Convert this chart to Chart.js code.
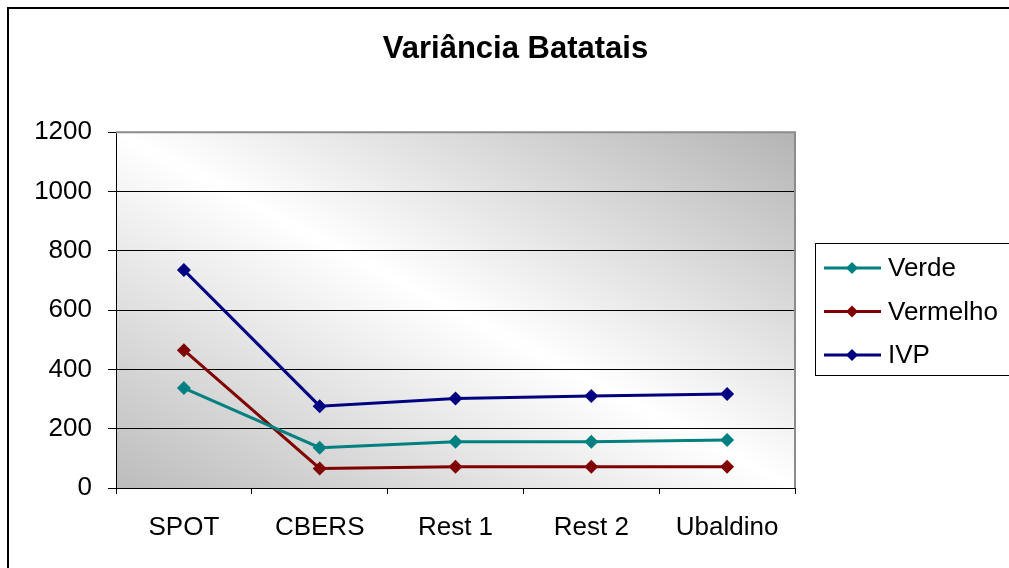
<!DOCTYPE html>
<html>
<head>
<meta charset="utf-8">
<title>Variância Batatais</title>
<script src="https://cdn.jsdelivr.net/npm/chart.js@4/dist/chart.umd.min.js"></script>
<style>
  html, body { margin: 0; padding: 0; background: #fff; }
  canvas { display: block; }
</style>
</head>
<body>
<canvas id="varChart" width="1009" height="568"></canvas>
<script>
const categories = ['SPOT', 'CBERS', 'Rest 1', 'Rest 2', 'Ubaldino'];
const verde = [337, 136, 156, 156, 162];
const vermelho = [465, 66, 72, 72, 72];
const ivp = [735, 276, 302, 310, 317];
const yTicks = [0, 200, 400, 600, 800, 1000, 1200];

const FONT = '"Liberation Sans", Arial, sans-serif';
Chart.defaults.font.family = FONT;
Chart.defaults.color = '#000';

// outer frame + plot area background/border
const frame = {
  id: 'frame',
  beforeDraw(chart) {
    const { ctx, chartArea: a } = chart;
    ctx.save();
    ctx.fillStyle = '#fff';
    ctx.fillRect(0, 0, chart.width, chart.height);
    ctx.strokeStyle = '#000';
    ctx.lineWidth = 2;
    ctx.beginPath();
    ctx.moveTo(8, chart.height + 2);
    ctx.lineTo(8, 8);
    ctx.lineTo(chart.width + 2, 8);
    ctx.stroke();

    // diagonal grey-white-grey fill
    const cx = (a.left + a.right) / 2, cy = (a.top + a.bottom) / 2;
    const w = a.right - a.left, h = a.bottom - a.top;
    const len = Math.hypot(w, h);
    const nx = h / len, ny = -w / len;
    const d = (w / 2) * nx - (h / 2) * ny;
    const g = ctx.createLinearGradient(cx + d * nx, cy + d * ny, cx - d * nx, cy - d * ny);
    g.addColorStop(0, '#b4b4b4');
    g.addColorStop(0.5, '#ffffff');
    g.addColorStop(1, '#bcbcbc');
    ctx.fillStyle = g;
    ctx.fillRect(a.left, a.top, w, h);
    ctx.restore();
  },
  beforeDatasetsDraw(chart) {
    const { ctx, chartArea: a } = chart;
    ctx.save();
    ctx.strokeStyle = '#8c8c8c';
    ctx.lineWidth = 2;
    ctx.beginPath();
    ctx.moveTo(a.left, a.top);
    ctx.lineTo(a.right, a.top);
    ctx.lineTo(a.right, a.bottom);
    ctx.stroke();
    ctx.restore();
  }
};

// boxed legend on the right: line sample with diamond marker
const boxLegend = {
  id: 'boxLegend',
  afterDraw(chart) {
    const ctx = chart.ctx;
    ctx.save();
    ctx.strokeStyle = '#000';
    ctx.lineWidth = 1;
    ctx.strokeRect(815.5, 243.5, 200, 132);
    chart.data.datasets.forEach((ds, i) => {
      const y = 268 + i * 43.5;
      ctx.strokeStyle = ds.borderColor;
      ctx.lineWidth = 3;
      ctx.beginPath();
      ctx.moveTo(824, y);
      ctx.lineTo(881, y);
      ctx.stroke();
      ctx.fillStyle = ds.borderColor;
      ctx.beginPath();
      ctx.moveTo(852, y - 6);
      ctx.lineTo(858, y);
      ctx.lineTo(852, y + 6);
      ctx.lineTo(846, y);
      ctx.closePath();
      ctx.fill();
      ctx.fillStyle = '#000';
      ctx.font = '26px ' + FONT;
      ctx.textBaseline = 'middle';
      ctx.textAlign = 'left';
      ctx.fillText(ds.label, 888, y + 1);
    });
    ctx.restore();
  }
};

function series(label, data, color) {
  return {
    label,
    data,
    borderColor: color,
    backgroundColor: color,
    borderWidth: 3,
    tension: 0,
    pointStyle: 'rectRot',
    pointRadius: 7,
    pointHoverRadius: 7,
    pointBorderWidth: 0
  };
}

new Chart(document.getElementById('varChart'), {
  type: 'line',
  data: {
    labels: categories,
    datasets: [
      series('Verde', verde, '#008080'),
      series('Vermelho', vermelho, '#800000'),
      series('IVP', ivp, '#000080')
    ]
  },
  options: {
    responsive: false,
    animation: false,
    layout: { padding: { left: 22, right: 0, top: 0, bottom: 0 } },
    plugins: {
      legend: { display: false },
      tooltip: { enabled: false },
      title: {
        display: true,
        text: 'Variância Batatais',
        color: '#000',
        font: { size: 31, weight: 'bold' },
        padding: { top: 31, bottom: 64 }
      }
    },
    scales: {
      x: {
        offset: true,
        afterFit(scale) { scale.height = 80; },
        grid: { drawOnChartArea: false, offset: true, tickLength: 6, tickColor: '#000' },
        border: { color: '#000', width: 1 },
        ticks: { font: { size: 26 }, color: '#000', padding: 18, maxRotation: 0 }
      },
      y: {
        min: 0,
        max: 1200,
        afterFit(scale) { scale.width = 94; },
        afterBuildTicks(scale) { scale.ticks = yTicks.map(v => ({ value: v })); },
        grid: { color: '#000', lineWidth: 1, tickLength: 8, tickColor: '#000' },
        border: { color: '#000', width: 1 },
        ticks: { font: { size: 26 }, color: '#000', padding: 16, callback: v => String(v) }
      },
      // empty right-hand axis reserving room for the boxed legend
      legendSpace: {
        type: 'linear',
        position: 'right',
        afterFit(scale) { scale.width = 214; },
        grid: { display: false },
        border: { display: false },
        ticks: { display: false }
      }
    }
  },
  plugins: [frame, boxLegend]
});
</script>
</body>
</html>
